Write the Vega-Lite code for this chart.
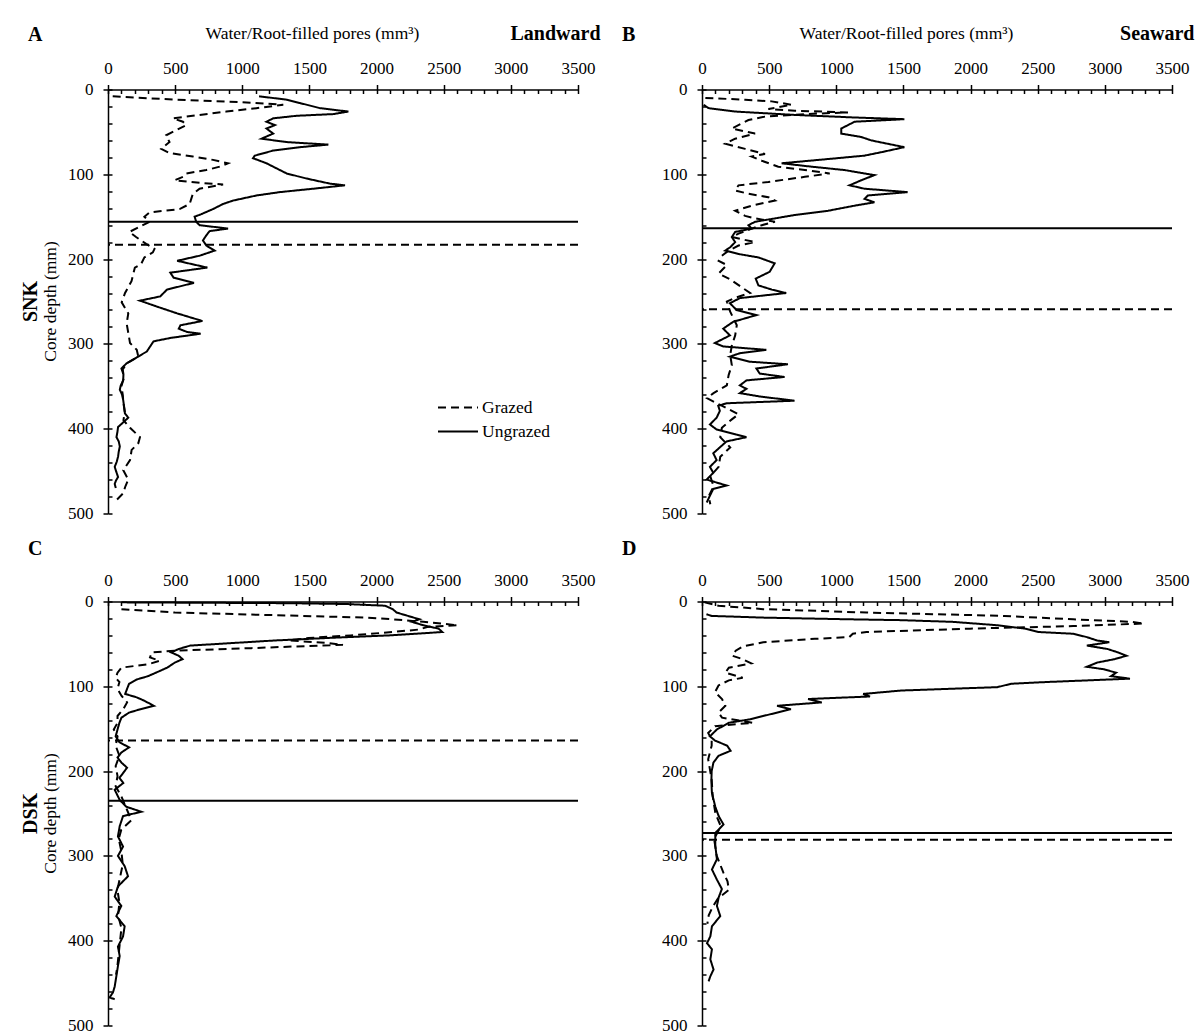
{
"$schema": "https://vega.github.io/schema/vega-lite/v6.json",
"background": "white",
"padding": {"left": 20, "top": 23.5, "right": 5, "bottom": 2},
"config": {"font": "Liberation Serif", "view": {"stroke": null}},
"datasets": {
"A": [
{"t":"Ungrazed","d":8,"v":1125},{"t":"Ungrazed","d":12,"v":1330},{"t":"Ungrazed","d":16,"v":1430},{"t":"Ungrazed","d":22,"v":1579},{"t":"Ungrazed","d":26,"v":1790},{"t":"Ungrazed","d":29,"v":1678},{"t":"Ungrazed","d":31,"v":1404},{"t":"Ungrazed","d":34,"v":1230},{"t":"Ungrazed","d":38,"v":1180},{"t":"Ungrazed","d":42,"v":1243},{"t":"Ungrazed","d":46,"v":1180},{"t":"Ungrazed","d":52,"v":1230},{"t":"Ungrazed","d":58,"v":1143},{"t":"Ungrazed","d":62,"v":1330},{"t":"Ungrazed","d":65,"v":1641},{"t":"Ungrazed","d":68,"v":1430},{"t":"Ungrazed","d":72,"v":1230},{"t":"Ungrazed","d":78,"v":1093},{"t":"Ungrazed","d":81,"v":1080},{"t":"Ungrazed","d":87,"v":1180},{"t":"Ungrazed","d":93,"v":1255},{"t":"Ungrazed","d":99,"v":1330},{"t":"Ungrazed","d":105,"v":1479},{"t":"Ungrazed","d":111,"v":1653},{"t":"Ungrazed","d":113,"v":1765},{"t":"Ungrazed","d":117,"v":1529},{"t":"Ungrazed","d":121,"v":1280},{"t":"Ungrazed","d":125,"v":1105},{"t":"Ungrazed","d":131,"v":931},{"t":"Ungrazed","d":135,"v":857},{"t":"Ungrazed","d":141,"v":782},{"t":"Ungrazed","d":147,"v":695},{"t":"Ungrazed","d":150,"v":645},{"t":"Ungrazed","d":156,"v":657},{"t":"Ungrazed","d":160,"v":682},{"t":"Ungrazed","d":164,"v":894},{"t":"Ungrazed","d":167,"v":757},{"t":"Ungrazed","d":172,"v":732},{"t":"Ungrazed","d":178,"v":707},{"t":"Ungrazed","d":184,"v":732},{"t":"Ungrazed","d":190,"v":794},{"t":"Ungrazed","d":196,"v":682},{"t":"Ungrazed","d":202,"v":515},{"t":"Ungrazed","d":210,"v":740},{"t":"Ungrazed","d":216,"v":464},{"t":"Ungrazed","d":222,"v":489},{"t":"Ungrazed","d":228,"v":640},{"t":"Ungrazed","d":236,"v":439},{"t":"Ungrazed","d":244,"v":389},{"t":"Ungrazed","d":249,"v":238},{"t":"Ungrazed","d":256,"v":364},{"t":"Ungrazed","d":264,"v":515},{"t":"Ungrazed","d":273,"v":703},{"t":"Ungrazed","d":278,"v":540},{"t":"Ungrazed","d":282,"v":527},{"t":"Ungrazed","d":286,"v":590},{"t":"Ungrazed","d":288,"v":690},{"t":"Ungrazed","d":293,"v":464},{"t":"Ungrazed","d":297,"v":339},{"t":"Ungrazed","d":303,"v":314},{"t":"Ungrazed","d":309,"v":289},{"t":"Ungrazed","d":316,"v":213},{"t":"Ungrazed","d":323,"v":138},{"t":"Ungrazed","d":329,"v":100},{"t":"Ungrazed","d":336,"v":115},{"t":"Ungrazed","d":343,"v":113},{"t":"Ungrazed","d":349,"v":95},{"t":"Ungrazed","d":354,"v":88},{"t":"Ungrazed","d":360,"v":105},{"t":"Ungrazed","d":366,"v":113},{"t":"Ungrazed","d":374,"v":120},{"t":"Ungrazed","d":382,"v":126},{"t":"Ungrazed","d":387,"v":151},{"t":"Ungrazed","d":393,"v":110},{"t":"Ungrazed","d":398,"v":75},{"t":"Ungrazed","d":404,"v":70},{"t":"Ungrazed","d":410,"v":63},{"t":"Ungrazed","d":415,"v":80},{"t":"Ungrazed","d":421,"v":88},{"t":"Ungrazed","d":427,"v":80},{"t":"Ungrazed","d":433,"v":75},{"t":"Ungrazed","d":439,"v":65},{"t":"Ungrazed","d":445,"v":50},{"t":"Ungrazed","d":451,"v":62},{"t":"Ungrazed","d":457,"v":75},{"t":"Ungrazed","d":461,"v":60},{"t":"Ungrazed","d":465,"v":50},{"t":"Ungrazed","d":470,"v":58},
{"t":"Grazed","d":8,"v":35},{"t":"Grazed","d":12,"v":500},{"t":"Grazed","d":15,"v":1000},{"t":"Grazed","d":18,"v":1305},{"t":"Grazed","d":22,"v":1105},{"t":"Grazed","d":26,"v":881},{"t":"Grazed","d":30,"v":682},{"t":"Grazed","d":34,"v":483},{"t":"Grazed","d":38,"v":558},{"t":"Grazed","d":42,"v":583},{"t":"Grazed","d":48,"v":508},{"t":"Grazed","d":54,"v":433},{"t":"Grazed","d":62,"v":458},{"t":"Grazed","d":70,"v":396},{"t":"Grazed","d":75,"v":458},{"t":"Grazed","d":79,"v":632},{"t":"Grazed","d":83,"v":782},{"t":"Grazed","d":87,"v":894},{"t":"Grazed","d":91,"v":832},{"t":"Grazed","d":95,"v":732},{"t":"Grazed","d":99,"v":583},{"t":"Grazed","d":103,"v":558},{"t":"Grazed","d":107,"v":496},{"t":"Grazed","d":110,"v":682},{"t":"Grazed","d":112,"v":857},{"t":"Grazed","d":117,"v":682},{"t":"Grazed","d":123,"v":632},{"t":"Grazed","d":129,"v":620},{"t":"Grazed","d":135,"v":608},{"t":"Grazed","d":141,"v":533},{"t":"Grazed","d":145,"v":309},{"t":"Grazed","d":150,"v":271},{"t":"Grazed","d":156,"v":309},{"t":"Grazed","d":162,"v":234},{"t":"Grazed","d":168,"v":159},{"t":"Grazed","d":174,"v":209},{"t":"Grazed","d":182,"v":284},{"t":"Grazed","d":188,"v":346},{"t":"Grazed","d":192,"v":334},{"t":"Grazed","d":198,"v":271},{"t":"Grazed","d":206,"v":246},{"t":"Grazed","d":210,"v":200},{"t":"Grazed","d":226,"v":175},{"t":"Grazed","d":240,"v":127},{"t":"Grazed","d":251,"v":102},{"t":"Grazed","d":264,"v":151},{"t":"Grazed","d":276,"v":139},{"t":"Grazed","d":287,"v":151},{"t":"Grazed","d":299,"v":164},{"t":"Grazed","d":307,"v":214},{"t":"Grazed","d":315,"v":226},{"t":"Grazed","d":323,"v":139},{"t":"Grazed","d":330,"v":110},{"t":"Grazed","d":340,"v":118},{"t":"Grazed","d":350,"v":100},{"t":"Grazed","d":360,"v":110},{"t":"Grazed","d":370,"v":115},{"t":"Grazed","d":380,"v":125},{"t":"Grazed","d":390,"v":115},{"t":"Grazed","d":399,"v":164},{"t":"Grazed","d":410,"v":238},{"t":"Grazed","d":417,"v":226},{"t":"Grazed","d":425,"v":176},{"t":"Grazed","d":437,"v":164},{"t":"Grazed","d":449,"v":114},{"t":"Grazed","d":460,"v":151},{"t":"Grazed","d":469,"v":127},{"t":"Grazed","d":476,"v":114},{"t":"Grazed","d":484,"v":64}
],
"B": [
{"t":"Ungrazed","d":18,"v":12},{"t":"Ungrazed","d":22,"v":49},{"t":"Ungrazed","d":26,"v":247},{"t":"Ungrazed","d":30,"v":692},{"t":"Ungrazed","d":33,"v":1136},{"t":"Ungrazed","d":35,"v":1507},{"t":"Ungrazed","d":38,"v":1136},{"t":"Ungrazed","d":42,"v":1087},{"t":"Ungrazed","d":46,"v":1037},{"t":"Ungrazed","d":52,"v":1037},{"t":"Ungrazed","d":56,"v":1186},{"t":"Ungrazed","d":60,"v":1260},{"t":"Ungrazed","d":64,"v":1383},{"t":"Ungrazed","d":68,"v":1507},{"t":"Ungrazed","d":74,"v":1334},{"t":"Ungrazed","d":78,"v":1210},{"t":"Ungrazed","d":82,"v":939},{"t":"Ungrazed","d":87,"v":593},{"t":"Ungrazed","d":91,"v":815},{"t":"Ungrazed","d":95,"v":1062},{"t":"Ungrazed","d":99,"v":1210},{"t":"Ungrazed","d":101,"v":1284},{"t":"Ungrazed","d":107,"v":1186},{"t":"Ungrazed","d":113,"v":1099},{"t":"Ungrazed","d":117,"v":1210},{"t":"Ungrazed","d":121,"v":1531},{"t":"Ungrazed","d":125,"v":1235},{"t":"Ungrazed","d":129,"v":1210},{"t":"Ungrazed","d":133,"v":1284},{"t":"Ungrazed","d":137,"v":1136},{"t":"Ungrazed","d":143,"v":939},{"t":"Ungrazed","d":148,"v":692},{"t":"Ungrazed","d":152,"v":543},{"t":"Ungrazed","d":156,"v":395},{"t":"Ungrazed","d":160,"v":346},{"t":"Ungrazed","d":164,"v":370},{"t":"Ungrazed","d":168,"v":247},{"t":"Ungrazed","d":174,"v":222},{"t":"Ungrazed","d":180,"v":247},{"t":"Ungrazed","d":186,"v":210},{"t":"Ungrazed","d":190,"v":173},{"t":"Ungrazed","d":194,"v":272},{"t":"Ungrazed","d":198,"v":420},{"t":"Ungrazed","d":205,"v":541},{"t":"Ungrazed","d":215,"v":504},{"t":"Ungrazed","d":223,"v":400},{"t":"Ungrazed","d":231,"v":420},{"t":"Ungrazed","d":236,"v":520},{"t":"Ungrazed","d":240,"v":627},{"t":"Ungrazed","d":246,"v":282},{"t":"Ungrazed","d":252,"v":208},{"t":"Ungrazed","d":260,"v":257},{"t":"Ungrazed","d":266,"v":405},{"t":"Ungrazed","d":274,"v":232},{"t":"Ungrazed","d":282,"v":158},{"t":"Ungrazed","d":290,"v":208},{"t":"Ungrazed","d":296,"v":133},{"t":"Ungrazed","d":299,"v":96},{"t":"Ungrazed","d":303,"v":158},{"t":"Ungrazed","d":307,"v":479},{"t":"Ungrazed","d":311,"v":282},{"t":"Ungrazed","d":315,"v":208},{"t":"Ungrazed","d":321,"v":356},{"t":"Ungrazed","d":324,"v":640},{"t":"Ungrazed","d":329,"v":405},{"t":"Ungrazed","d":335,"v":430},{"t":"Ungrazed","d":339,"v":615},{"t":"Ungrazed","d":343,"v":331},{"t":"Ungrazed","d":349,"v":282},{"t":"Ungrazed","d":353,"v":331},{"t":"Ungrazed","d":358,"v":282},{"t":"Ungrazed","d":362,"v":430},{"t":"Ungrazed","d":367,"v":689},{"t":"Ungrazed","d":370,"v":183},{"t":"Ungrazed","d":373,"v":121},{"t":"Ungrazed","d":379,"v":133},{"t":"Ungrazed","d":387,"v":109},{"t":"Ungrazed","d":395,"v":59},{"t":"Ungrazed","d":401,"v":109},{"t":"Ungrazed","d":407,"v":257},{"t":"Ungrazed","d":410,"v":331},{"t":"Ungrazed","d":415,"v":183},{"t":"Ungrazed","d":422,"v":133},{"t":"Ungrazed","d":429,"v":84},{"t":"Ungrazed","d":437,"v":109},{"t":"Ungrazed","d":445,"v":59},{"t":"Ungrazed","d":452,"v":84},{"t":"Ungrazed","d":460,"v":35},{"t":"Ungrazed","d":467,"v":183},{"t":"Ungrazed","d":471,"v":84},{"t":"Ungrazed","d":479,"v":59},{"t":"Ungrazed","d":487,"v":35},
{"t":"Grazed","d":10,"v":25},{"t":"Grazed","d":12,"v":321},{"t":"Grazed","d":14,"v":519},{"t":"Grazed","d":18,"v":667},{"t":"Grazed","d":21,"v":568},{"t":"Grazed","d":23,"v":494},{"t":"Grazed","d":25,"v":692},{"t":"Grazed","d":27,"v":1087},{"t":"Grazed","d":29,"v":766},{"t":"Grazed","d":32,"v":469},{"t":"Grazed","d":36,"v":346},{"t":"Grazed","d":40,"v":296},{"t":"Grazed","d":46,"v":222},{"t":"Grazed","d":52,"v":395},{"t":"Grazed","d":58,"v":247},{"t":"Grazed","d":64,"v":173},{"t":"Grazed","d":70,"v":321},{"t":"Grazed","d":76,"v":469},{"t":"Grazed","d":79,"v":370},{"t":"Grazed","d":84,"v":445},{"t":"Grazed","d":91,"v":568},{"t":"Grazed","d":95,"v":766},{"t":"Grazed","d":99,"v":951},{"t":"Grazed","d":103,"v":766},{"t":"Grazed","d":109,"v":494},{"t":"Grazed","d":113,"v":272},{"t":"Grazed","d":119,"v":247},{"t":"Grazed","d":123,"v":346},{"t":"Grazed","d":127,"v":494},{"t":"Grazed","d":131,"v":543},{"t":"Grazed","d":137,"v":370},{"t":"Grazed","d":143,"v":247},{"t":"Grazed","d":149,"v":321},{"t":"Grazed","d":152,"v":395},{"t":"Grazed","d":156,"v":543},{"t":"Grazed","d":160,"v":445},{"t":"Grazed","d":164,"v":370},{"t":"Grazed","d":170,"v":272},{"t":"Grazed","d":174,"v":222},{"t":"Grazed","d":180,"v":395},{"t":"Grazed","d":184,"v":272},{"t":"Grazed","d":190,"v":198},{"t":"Grazed","d":196,"v":148},{"t":"Grazed","d":202,"v":124},{"t":"Grazed","d":207,"v":185},{"t":"Grazed","d":217,"v":124},{"t":"Grazed","d":224,"v":210},{"t":"Grazed","d":232,"v":284},{"t":"Grazed","d":240,"v":358},{"t":"Grazed","d":245,"v":259},{"t":"Grazed","d":250,"v":185},{"t":"Grazed","d":262,"v":210},{"t":"Grazed","d":278,"v":259},{"t":"Grazed","d":290,"v":247},{"t":"Grazed","d":302,"v":222},{"t":"Grazed","d":313,"v":210},{"t":"Grazed","d":325,"v":222},{"t":"Grazed","d":337,"v":198},{"t":"Grazed","d":349,"v":185},{"t":"Grazed","d":358,"v":86},{"t":"Grazed","d":364,"v":37},{"t":"Grazed","d":372,"v":136},{"t":"Grazed","d":383,"v":272},{"t":"Grazed","d":389,"v":222},{"t":"Grazed","d":399,"v":148},{"t":"Grazed","d":410,"v":136},{"t":"Grazed","d":422,"v":210},{"t":"Grazed","d":433,"v":136},{"t":"Grazed","d":445,"v":124},{"t":"Grazed","d":456,"v":62},{"t":"Grazed","d":468,"v":86},{"t":"Grazed","d":480,"v":49},{"t":"Grazed","d":489,"v":62}
],
"C": [
{"t":"Ungrazed","d":1,"v":100},{"t":"Ungrazed","d":2,"v":1352},{"t":"Ungrazed","d":3,"v":1779},{"t":"Ungrazed","d":5,"v":2063},{"t":"Ungrazed","d":9,"v":2120},{"t":"Ungrazed","d":13,"v":2149},{"t":"Ungrazed","d":17,"v":2234},{"t":"Ungrazed","d":21,"v":2319},{"t":"Ungrazed","d":24,"v":2263},{"t":"Ungrazed","d":28,"v":2348},{"t":"Ungrazed","d":32,"v":2462},{"t":"Ungrazed","d":36,"v":2490},{"t":"Ungrazed","d":40,"v":2092},{"t":"Ungrazed","d":43,"v":1637},{"t":"Ungrazed","d":46,"v":1238},{"t":"Ungrazed","d":49,"v":925},{"t":"Ungrazed","d":52,"v":612},{"t":"Ungrazed","d":56,"v":527},{"t":"Ungrazed","d":60,"v":470},{"t":"Ungrazed","d":64,"v":527},{"t":"Ungrazed","d":68,"v":555},{"t":"Ungrazed","d":72,"v":498},{"t":"Ungrazed","d":78,"v":441},{"t":"Ungrazed","d":84,"v":356},{"t":"Ungrazed","d":88,"v":299},{"t":"Ungrazed","d":92,"v":213},{"t":"Ungrazed","d":97,"v":157},{"t":"Ungrazed","d":103,"v":142},{"t":"Ungrazed","d":109,"v":128},{"t":"Ungrazed","d":113,"v":213},{"t":"Ungrazed","d":117,"v":270},{"t":"Ungrazed","d":123,"v":342},{"t":"Ungrazed","d":127,"v":242},{"t":"Ungrazed","d":131,"v":157},{"t":"Ungrazed","d":137,"v":100},{"t":"Ungrazed","d":143,"v":85},{"t":"Ungrazed","d":151,"v":71},{"t":"Ungrazed","d":159,"v":57},{"t":"Ungrazed","d":166,"v":85},{"t":"Ungrazed","d":172,"v":157},{"t":"Ungrazed","d":178,"v":100},{"t":"Ungrazed","d":184,"v":71},{"t":"Ungrazed","d":190,"v":100},{"t":"Ungrazed","d":196,"v":142},{"t":"Ungrazed","d":202,"v":114},{"t":"Ungrazed","d":208,"v":85},{"t":"Ungrazed","d":214,"v":114},{"t":"Ungrazed","d":222,"v":50},{"t":"Ungrazed","d":234,"v":87},{"t":"Ungrazed","d":242,"v":136},{"t":"Ungrazed","d":248,"v":248},{"t":"Ungrazed","d":253,"v":112},{"t":"Ungrazed","d":265,"v":87},{"t":"Ungrazed","d":277,"v":74},{"t":"Ungrazed","d":289,"v":112},{"t":"Ungrazed","d":300,"v":74},{"t":"Ungrazed","d":312,"v":124},{"t":"Ungrazed","d":324,"v":149},{"t":"Ungrazed","d":336,"v":74},{"t":"Ungrazed","d":348,"v":50},{"t":"Ungrazed","d":359,"v":99},{"t":"Ungrazed","d":371,"v":62},{"t":"Ungrazed","d":383,"v":124},{"t":"Ungrazed","d":395,"v":112},{"t":"Ungrazed","d":407,"v":74},{"t":"Ungrazed","d":418,"v":87},{"t":"Ungrazed","d":430,"v":74},{"t":"Ungrazed","d":442,"v":62},{"t":"Ungrazed","d":454,"v":50},{"t":"Ungrazed","d":461,"v":37},{"t":"Ungrazed","d":467,"v":12},{"t":"Ungrazed","d":469,"v":50},
{"t":"Grazed","d":9,"v":100},{"t":"Grazed","d":13,"v":498},{"t":"Grazed","d":16,"v":1210},{"t":"Grazed","d":19,"v":1921},{"t":"Grazed","d":21,"v":2120},{"t":"Grazed","d":24,"v":2348},{"t":"Grazed","d":28,"v":2604},{"t":"Grazed","d":30,"v":2376},{"t":"Grazed","d":33,"v":2319},{"t":"Grazed","d":36,"v":2120},{"t":"Grazed","d":40,"v":1807},{"t":"Grazed","d":43,"v":1494},{"t":"Grazed","d":46,"v":1352},{"t":"Grazed","d":49,"v":1637},{"t":"Grazed","d":51,"v":1750},{"t":"Grazed","d":53,"v":1400},{"t":"Grazed","d":55,"v":1067},{"t":"Grazed","d":58,"v":498},{"t":"Grazed","d":60,"v":327},{"t":"Grazed","d":66,"v":313},{"t":"Grazed","d":70,"v":384},{"t":"Grazed","d":74,"v":299},{"t":"Grazed","d":78,"v":100},{"t":"Grazed","d":84,"v":71},{"t":"Grazed","d":90,"v":57},{"t":"Grazed","d":95,"v":85},{"t":"Grazed","d":103,"v":71},{"t":"Grazed","d":111,"v":100},{"t":"Grazed","d":119,"v":142},{"t":"Grazed","d":127,"v":114},{"t":"Grazed","d":135,"v":71},{"t":"Grazed","d":143,"v":71},{"t":"Grazed","d":151,"v":43},{"t":"Grazed","d":159,"v":71},{"t":"Grazed","d":170,"v":57},{"t":"Grazed","d":182,"v":85},{"t":"Grazed","d":194,"v":57},{"t":"Grazed","d":206,"v":71},{"t":"Grazed","d":218,"v":57},{"t":"Grazed","d":230,"v":100},{"t":"Grazed","d":245,"v":140},{"t":"Grazed","d":258,"v":174},{"t":"Grazed","d":269,"v":99},{"t":"Grazed","d":280,"v":80},{"t":"Grazed","d":295,"v":100},{"t":"Grazed","d":310,"v":110},{"t":"Grazed","d":325,"v":90},{"t":"Grazed","d":340,"v":70},{"t":"Grazed","d":355,"v":85},{"t":"Grazed","d":370,"v":75},{"t":"Grazed","d":385,"v":100},{"t":"Grazed","d":400,"v":90},{"t":"Grazed","d":415,"v":80},{"t":"Grazed","d":430,"v":70},{"t":"Grazed","d":440,"v":60}
],
"D": [
{"t":"Ungrazed","d":15,"v":33},{"t":"Ungrazed","d":17,"v":72},{"t":"Ungrazed","d":19,"v":456},{"t":"Ungrazed","d":21,"v":1097},{"t":"Ungrazed","d":22,"v":1482},{"t":"Ungrazed","d":24,"v":1867},{"t":"Ungrazed","d":28,"v":2200},{"t":"Ungrazed","d":32,"v":2405},{"t":"Ungrazed","d":36,"v":2508},{"t":"Ungrazed","d":38,"v":2764},{"t":"Ungrazed","d":42,"v":2866},{"t":"Ungrazed","d":46,"v":2943},{"t":"Ungrazed","d":48,"v":3033},{"t":"Ungrazed","d":52,"v":2866},{"t":"Ungrazed","d":56,"v":3020},{"t":"Ungrazed","d":60,"v":3097},{"t":"Ungrazed","d":64,"v":3161},{"t":"Ungrazed","d":68,"v":3072},{"t":"Ungrazed","d":72,"v":2943},{"t":"Ungrazed","d":77,"v":2866},{"t":"Ungrazed","d":80,"v":2995},{"t":"Ungrazed","d":84,"v":3084},{"t":"Ungrazed","d":88,"v":3046},{"t":"Ungrazed","d":91,"v":3187},{"t":"Ungrazed","d":95,"v":2559},{"t":"Ungrazed","d":97,"v":2302},{"t":"Ungrazed","d":101,"v":2200},{"t":"Ungrazed","d":105,"v":1482},{"t":"Ungrazed","d":109,"v":1200},{"t":"Ungrazed","d":112,"v":1251},{"t":"Ungrazed","d":115,"v":790},{"t":"Ungrazed","d":119,"v":892},{"t":"Ungrazed","d":123,"v":559},{"t":"Ungrazed","d":127,"v":662},{"t":"Ungrazed","d":133,"v":508},{"t":"Ungrazed","d":139,"v":354},{"t":"Ungrazed","d":143,"v":200},{"t":"Ungrazed","d":151,"v":110},{"t":"Ungrazed","d":159,"v":59},{"t":"Ungrazed","d":164,"v":97},{"t":"Ungrazed","d":170,"v":187},{"t":"Ungrazed","d":176,"v":213},{"t":"Ungrazed","d":182,"v":123},{"t":"Ungrazed","d":190,"v":85},{"t":"Ungrazed","d":200,"v":72},{"t":"Ungrazed","d":210,"v":70},{"t":"Ungrazed","d":220,"v":72},{"t":"Ungrazed","d":226,"v":74},{"t":"Ungrazed","d":242,"v":99},{"t":"Ungrazed","d":253,"v":124},{"t":"Ungrazed","d":263,"v":160},{"t":"Ungrazed","d":273,"v":99},{"t":"Ungrazed","d":288,"v":99},{"t":"Ungrazed","d":304,"v":111},{"t":"Ungrazed","d":316,"v":74},{"t":"Ungrazed","d":328,"v":111},{"t":"Ungrazed","d":339,"v":148},{"t":"Ungrazed","d":349,"v":124},{"t":"Ungrazed","d":359,"v":111},{"t":"Ungrazed","d":371,"v":136},{"t":"Ungrazed","d":383,"v":74},{"t":"Ungrazed","d":395,"v":62},{"t":"Ungrazed","d":403,"v":37},{"t":"Ungrazed","d":410,"v":74},{"t":"Ungrazed","d":422,"v":62},{"t":"Ungrazed","d":434,"v":86},{"t":"Ungrazed","d":442,"v":62},{"t":"Ungrazed","d":448,"v":49},
{"t":"Grazed","d":1,"v":20},{"t":"Grazed","d":5,"v":123},{"t":"Grazed","d":9,"v":456},{"t":"Grazed","d":13,"v":1225},{"t":"Grazed","d":17,"v":2251},{"t":"Grazed","d":21,"v":2764},{"t":"Grazed","d":24,"v":3200},{"t":"Grazed","d":26,"v":3290},{"t":"Grazed","d":29,"v":2764},{"t":"Grazed","d":32,"v":1995},{"t":"Grazed","d":36,"v":1225},{"t":"Grazed","d":38,"v":1123},{"t":"Grazed","d":42,"v":1097},{"t":"Grazed","d":44,"v":841},{"t":"Grazed","d":48,"v":456},{"t":"Grazed","d":53,"v":303},{"t":"Grazed","d":58,"v":251},{"t":"Grazed","d":64,"v":226},{"t":"Grazed","d":68,"v":303},{"t":"Grazed","d":73,"v":367},{"t":"Grazed","d":78,"v":200},{"t":"Grazed","d":84,"v":174},{"t":"Grazed","d":90,"v":303},{"t":"Grazed","d":93,"v":200},{"t":"Grazed","d":99,"v":123},{"t":"Grazed","d":107,"v":97},{"t":"Grazed","d":115,"v":149},{"t":"Grazed","d":123,"v":174},{"t":"Grazed","d":131,"v":123},{"t":"Grazed","d":137,"v":149},{"t":"Grazed","d":143,"v":379},{"t":"Grazed","d":147,"v":97},{"t":"Grazed","d":155,"v":46},{"t":"Grazed","d":163,"v":72},{"t":"Grazed","d":170,"v":72},{"t":"Grazed","d":178,"v":59},{"t":"Grazed","d":186,"v":46},{"t":"Grazed","d":198,"v":59},{"t":"Grazed","d":210,"v":72},{"t":"Grazed","d":230,"v":80},{"t":"Grazed","d":250,"v":100},{"t":"Grazed","d":265,"v":140},{"t":"Grazed","d":280,"v":90},{"t":"Grazed","d":300,"v":110},{"t":"Grazed","d":320,"v":160},{"t":"Grazed","d":330,"v":190},{"t":"Grazed","d":340,"v":200},{"t":"Grazed","d":350,"v":120},{"t":"Grazed","d":360,"v":80},{"t":"Grazed","d":370,"v":50},{"t":"Grazed","d":380,"v":40}
],
"hl": [
{"p":"A","t":"Ungrazed","d":156},{"p":"A","t":"Grazed","d":183},
{"p":"B","t":"Ungrazed","d":163.5},{"p":"B","t":"Grazed","d":259},
{"p":"C","t":"Grazed","d":164},{"p":"C","t":"Ungrazed","d":235},
{"p":"D","t":"Ungrazed","d":273},{"p":"D","t":"Grazed","d":281}
]
},
"resolve": {"scale": {"strokeDash": "independent"}, "legend": {"strokeDash": "independent"}},
"columns": 2,
"spacing": {"row": 88, "column": 124},
"bounds": "flush",
"concat": [
{
"width": 470, "height": 424,
"title": {"text": "A", "anchor": "start", "frame": "group", "fontSize": 20, "fontWeight": "bold", "color": "black", "dx": -80, "dy": 21, "offset": 0},
"resolve": {"axis": {"x": "independent", "y": "independent"}},
"layer": [
{"data": {"name": "A"},
 "mark": {"type": "line", "color": "black", "strokeWidth": 2},
 "encoding": {
  "x": {"field": "v", "type": "quantitative", "scale": {"domain": [0, 3500], "nice": false},
        "axis": {"orient": "top", "values": [0,500,1000,1500,2000,2500,3000,3500], "format": "d", "tickSize": 5, "tickColor": "black", "tickWidth": 1.5, "domainColor": "black", "domainWidth": 1.5, "labelFontSize": 17, "labelColor": "black", "labelPadding": 7, "labelFlush": false, "labelOverlap": false, "grid": false,
                 "title": "Water/Root-filled pores (mm³)", "titleFontSize": 17.5, "titleFontWeight": "normal", "titleColor": "black", "titleX": 204, "titleY": -56, "titleAlign": "center", "titleBaseline": "middle"}},
  "y": {"field": "d", "type": "quantitative", "scale": {"domain": [0, 500], "nice": false, "reverse": true},
        "axis": {"orient": "left", "values": [0,100,200,300,400,500], "format": "d", "tickSize": 5, "tickColor": "black", "tickWidth": 1.5, "domainColor": "black", "domainWidth": 1.5, "labelFontSize": 17, "labelColor": "black", "labelPadding": 10, "labelFlush": false, "labelOverlap": false, "grid": false,
                 "title": "Core depth (mm)", "titleFontSize": 17.5, "titleFontWeight": "normal", "titleColor": "black", "titleX": -58, "titleY": 211.5, "titleAngle": -90, "titleAlign": "center", "titleBaseline": "middle"}},
  "strokeDash": {"field": "t", "type": "nominal", "scale": {"domain": ["Grazed", "Ungrazed"], "range": [[8, 5], [1, 0]]},
        "legend": {"orient": "none", "legendX": 329, "legendY": 309, "title": null, "symbolType": "stroke", "symbolSize": 1600, "symbolStrokeWidth": 2, "symbolStrokeColor": "black", "labelFontSize": 17.5, "labelColor": "black", "clipHeight": 18, "rowPadding": 6, "labelOffset": 3}},
  "order": {"field": "d", "type": "quantitative"}
 }},
{"data": {"name": "hl"},
 "transform": [{"filter": "datum.p == 'A'"}],
 "mark": {"type": "rule", "color": "black", "strokeWidth": 2},
 "encoding": {
  "y": {"field": "d", "type": "quantitative", "axis": {"orient": "left", "values": [0,20,40,60,80,100,120,140,160,180,200,220,240,260,280,300,320,340,360,380,400,420,440,460,480,500], "tickSize": -4, "tickColor": "black", "tickWidth": 1.5, "labels": false, "domain": false, "grid": false,
        "title": "SNK", "titleFontSize": 20, "titleFontWeight": "bold", "titleColor": "black", "titleX": -78, "titleY": 211.5, "titleAngle": -90, "titleAlign": "center", "titleBaseline": "middle"}},
  "strokeDash": {"field": "t", "type": "nominal"}
 }},
{"data": {"name": "hl"},
 "transform": [{"filter": "datum.p == 'none'"}],
 "mark": {"type": "point", "opacity": 0},
 "encoding": {
  "x": {"field": "d", "type": "quantitative", "axis": {"orient": "top", "values": [0,100,200,300,400,500,600,700,800,900,1000,1100,1200,1300,1400,1500,1600,1700,1800,1900,2000,2100,2200,2300,2400,2500,2600,2700,2800,2900,3000,3100,3200,3300,3400,3500], "tickSize": -4, "tickColor": "black", "tickWidth": 1.5, "labels": false, "domain": false, "grid": false,
        "title": "Landward", "titleFontSize": 20, "titleFontWeight": "bold", "titleColor": "black", "titleX": 492, "titleY": -56, "titleAlign": "right", "titleBaseline": "middle"}}
 }}
]
},
{
"width": 470, "height": 424,
"title": {"text": "B", "anchor": "start", "frame": "group", "fontSize": 20, "fontWeight": "bold", "color": "black", "dx": -80, "dy": 21, "offset": 0},
"resolve": {"axis": {"x": "independent", "y": "independent"}},
"layer": [
{"data": {"name": "B"},
 "mark": {"type": "line", "color": "black", "strokeWidth": 2},
 "encoding": {
  "x": {"field": "v", "type": "quantitative", "scale": {"domain": [0, 3500], "nice": false},
        "axis": {"orient": "top", "values": [0,500,1000,1500,2000,2500,3000,3500], "format": "d", "tickSize": 5, "tickColor": "black", "tickWidth": 1.5, "domainColor": "black", "domainWidth": 1.5, "labelFontSize": 17, "labelColor": "black", "labelPadding": 7, "labelFlush": false, "labelOverlap": false, "grid": false,
                 "title": "Water/Root-filled pores (mm³)", "titleFontSize": 17.5, "titleFontWeight": "normal", "titleColor": "black", "titleX": 204, "titleY": -56, "titleAlign": "center", "titleBaseline": "middle"}},
  "y": {"field": "d", "type": "quantitative", "scale": {"domain": [0, 500], "nice": false, "reverse": true},
        "axis": {"orient": "left", "values": [0,100,200,300,400,500], "format": "d", "tickSize": 5, "tickColor": "black", "tickWidth": 1.5, "domainColor": "black", "domainWidth": 1.5, "labelFontSize": 17, "labelColor": "black", "labelPadding": 10, "labelFlush": false, "labelOverlap": false, "grid": false, "title": null}},
  "strokeDash": {"field": "t", "type": "nominal", "scale": {"domain": ["Grazed", "Ungrazed"], "range": [[8, 5], [1, 0]]}, "legend": null},
  "order": {"field": "d", "type": "quantitative"}
 }},
{"data": {"name": "hl"},
 "transform": [{"filter": "datum.p == 'B'"}],
 "mark": {"type": "rule", "color": "black", "strokeWidth": 2},
 "encoding": {
  "y": {"field": "d", "type": "quantitative", "axis": {"orient": "left", "values": [0,20,40,60,80,100,120,140,160,180,200,220,240,260,280,300,320,340,360,380,400,420,440,460,480,500], "tickSize": -4, "tickColor": "black", "tickWidth": 1.5, "labels": false, "domain": false, "grid": false, "title": null}},
  "strokeDash": {"field": "t", "type": "nominal", "legend": null}
 }},
{"data": {"name": "hl"},
 "transform": [{"filter": "datum.p == 'none'"}],
 "mark": {"type": "point", "opacity": 0},
 "encoding": {
  "x": {"field": "d", "type": "quantitative", "axis": {"orient": "top", "values": [0,100,200,300,400,500,600,700,800,900,1000,1100,1200,1300,1400,1500,1600,1700,1800,1900,2000,2100,2200,2300,2400,2500,2600,2700,2800,2900,3000,3100,3200,3300,3400,3500], "tickSize": -4, "tickColor": "black", "tickWidth": 1.5, "labels": false, "domain": false, "grid": false,
        "title": "Seaward", "titleFontSize": 20, "titleFontWeight": "bold", "titleColor": "black", "titleX": 492, "titleY": -56, "titleAlign": "right", "titleBaseline": "middle"}}
 }}
]
},
{
"width": 470, "height": 424,
"title": {"text": "C", "anchor": "start", "frame": "group", "fontSize": 20, "fontWeight": "bold", "color": "black", "dx": -80, "dy": -12.5, "offset": 0},
"resolve": {"axis": {"x": "independent", "y": "independent"}},
"layer": [
{"data": {"name": "C"},
 "mark": {"type": "line", "color": "black", "strokeWidth": 2},
 "encoding": {
  "x": {"field": "v", "type": "quantitative", "scale": {"domain": [0, 3500], "nice": false},
        "axis": {"orient": "top", "values": [0,500,1000,1500,2000,2500,3000,3500], "format": "d", "tickSize": 5, "tickColor": "black", "tickWidth": 1.5, "domainColor": "black", "domainWidth": 1.5, "labelFontSize": 17, "labelColor": "black", "labelPadding": 7, "labelFlush": false, "labelOverlap": false, "grid": false, "title": null}},
  "y": {"field": "d", "type": "quantitative", "scale": {"domain": [0, 500], "nice": false, "reverse": true},
        "axis": {"orient": "left", "values": [0,100,200,300,400,500], "format": "d", "tickSize": 5, "tickColor": "black", "tickWidth": 1.5, "domainColor": "black", "domainWidth": 1.5, "labelFontSize": 17, "labelColor": "black", "labelPadding": 10, "labelFlush": false, "labelOverlap": false, "grid": false,
                 "title": "Core depth (mm)", "titleFontSize": 17.5, "titleFontWeight": "normal", "titleColor": "black", "titleX": -58, "titleY": 211.5, "titleAngle": -90, "titleAlign": "center", "titleBaseline": "middle"}},
  "strokeDash": {"field": "t", "type": "nominal", "scale": {"domain": ["Grazed", "Ungrazed"], "range": [[8, 5], [1, 0]]}, "legend": null},
  "order": {"field": "d", "type": "quantitative"}
 }},
{"data": {"name": "hl"},
 "transform": [{"filter": "datum.p == 'C'"}],
 "mark": {"type": "rule", "color": "black", "strokeWidth": 2},
 "encoding": {
  "y": {"field": "d", "type": "quantitative", "axis": {"orient": "left", "values": [0,20,40,60,80,100,120,140,160,180,200,220,240,260,280,300,320,340,360,380,400,420,440,460,480,500], "tickSize": -4, "tickColor": "black", "tickWidth": 1.5, "labels": false, "domain": false, "grid": false,
        "title": "DSK", "titleFontSize": 20, "titleFontWeight": "bold", "titleColor": "black", "titleX": -78, "titleY": 211.5, "titleAngle": -90, "titleAlign": "center", "titleBaseline": "middle"}},
  "strokeDash": {"field": "t", "type": "nominal", "legend": null}
 }},
{"data": {"name": "hl"},
 "transform": [{"filter": "datum.p == 'none'"}],
 "mark": {"type": "point", "opacity": 0},
 "encoding": {
  "x": {"field": "d", "type": "quantitative", "axis": {"orient": "top", "values": [0,100,200,300,400,500,600,700,800,900,1000,1100,1200,1300,1400,1500,1600,1700,1800,1900,2000,2100,2200,2300,2400,2500,2600,2700,2800,2900,3000,3100,3200,3300,3400,3500], "tickSize": -4, "tickColor": "black", "tickWidth": 1.5, "labels": false, "domain": false, "grid": false, "title": null}}
 }}
]
},
{
"width": 470, "height": 424,
"title": {"text": "D", "anchor": "start", "frame": "group", "fontSize": 20, "fontWeight": "bold", "color": "black", "dx": -80, "dy": -12.5, "offset": 0},
"resolve": {"axis": {"x": "independent", "y": "independent"}},
"layer": [
{"data": {"name": "D"},
 "mark": {"type": "line", "color": "black", "strokeWidth": 2},
 "encoding": {
  "x": {"field": "v", "type": "quantitative", "scale": {"domain": [0, 3500], "nice": false},
        "axis": {"orient": "top", "values": [0,500,1000,1500,2000,2500,3000,3500], "format": "d", "tickSize": 5, "tickColor": "black", "tickWidth": 1.5, "domainColor": "black", "domainWidth": 1.5, "labelFontSize": 17, "labelColor": "black", "labelPadding": 7, "labelFlush": false, "labelOverlap": false, "grid": false, "title": null}},
  "y": {"field": "d", "type": "quantitative", "scale": {"domain": [0, 500], "nice": false, "reverse": true},
        "axis": {"orient": "left", "values": [0,100,200,300,400,500], "format": "d", "tickSize": 5, "tickColor": "black", "tickWidth": 1.5, "domainColor": "black", "domainWidth": 1.5, "labelFontSize": 17, "labelColor": "black", "labelPadding": 10, "labelFlush": false, "labelOverlap": false, "grid": false, "title": null}},
  "strokeDash": {"field": "t", "type": "nominal", "scale": {"domain": ["Grazed", "Ungrazed"], "range": [[8, 5], [1, 0]]}, "legend": null},
  "order": {"field": "d", "type": "quantitative"}
 }},
{"data": {"name": "hl"},
 "transform": [{"filter": "datum.p == 'D'"}],
 "mark": {"type": "rule", "color": "black", "strokeWidth": 2},
 "encoding": {
  "y": {"field": "d", "type": "quantitative", "axis": {"orient": "left", "values": [0,20,40,60,80,100,120,140,160,180,200,220,240,260,280,300,320,340,360,380,400,420,440,460,480,500], "tickSize": -4, "tickColor": "black", "tickWidth": 1.5, "labels": false, "domain": false, "grid": false, "title": null}},
  "strokeDash": {"field": "t", "type": "nominal", "legend": null}
 }},
{"data": {"name": "hl"},
 "transform": [{"filter": "datum.p == 'none'"}],
 "mark": {"type": "point", "opacity": 0},
 "encoding": {
  "x": {"field": "d", "type": "quantitative", "axis": {"orient": "top", "values": [0,100,200,300,400,500,600,700,800,900,1000,1100,1200,1300,1400,1500,1600,1700,1800,1900,2000,2100,2200,2300,2400,2500,2600,2700,2800,2900,3000,3100,3200,3300,3400,3500], "tickSize": -4, "tickColor": "black", "tickWidth": 1.5, "labels": false, "domain": false, "grid": false, "title": null}}
 }}
]
}
]
}
